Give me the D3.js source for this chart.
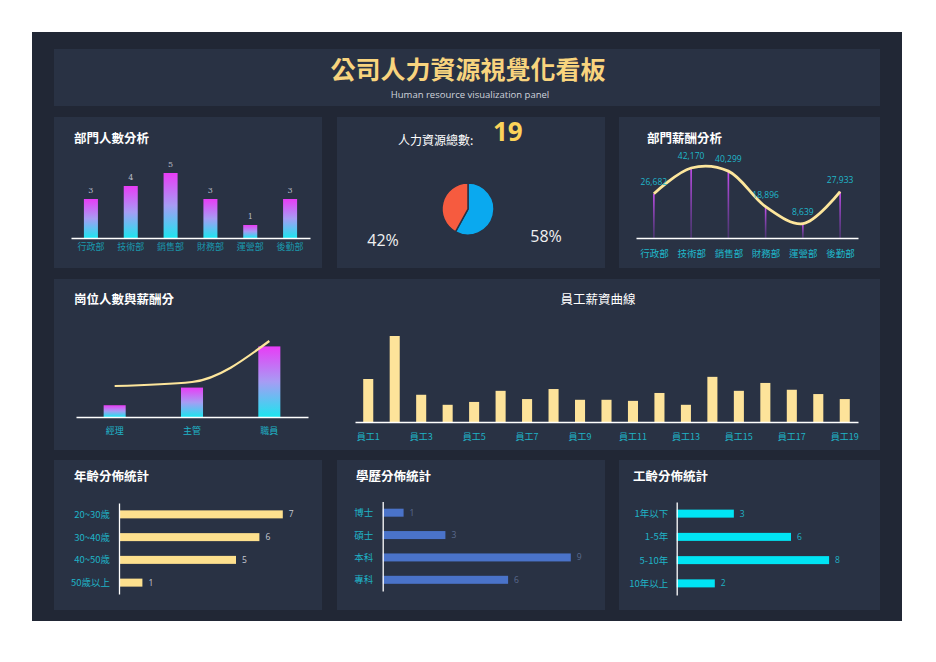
<!DOCTYPE html>
<html><head><meta charset="utf-8">
<script src="https://cdn.jsdelivr.net/npm/d3@7/dist/d3.min.js"></script>
<style>body{margin:0;background:#fff}svg{display:block}</style>
</head><body><svg id="c" width="936" height="662"></svg>
<script>
// ---------- DATA ----------
const deptNames = ['行政部','技術部','銷售部','財務部','運營部','後勤部'];
const deptCounts = [3,4,5,3,1,3];
const deptSalary = [26682,42170,40299,18896,8639,27933];
const totalStaff = 19;
const pieShares = [58,42];
const pieLabels = ['58%','42%'];
const posNames = ['經理','主管','職員'];
const posCounts = [2,5,12];
const posSalary = [31000,35000,76000];
const staffNames = ['員工1','員工2','員工3','員工4','員工5','員工6','員工7','員工8','員工9','員工10','員工11','員工12','員工13','員工14','員工15','員工16','員工17','員工18','員工19'];
const staffTicks = ['員工1','員工3','員工5','員工7','員工9','員工11','員工13','員工15','員工17','員工19'];
const staffSalary = [12000,24000,7600,4800,5600,8700,6400,9200,6200,6200,5900,8100,4800,12600,8700,10900,9000,7800,6400];
const ageCats = ['20~30歲','30~40歲','40~50歲','50歲以上'];
const ageVals = [7,6,5,1];
const eduCats = ['博士','碩士','本科','專科'];
const eduVals = [1,3,9,6];
const workCats = ['1年以下','1-5年','5-10年','10年以上'];
const workVals = [3,6,8,2];

// ---------- SETUP ----------
const FONT = '"Noto Sans CJK TC","Noto Sans",sans-serif';
const NUMFONT = '"Open Sans","Noto Sans",sans-serif';
const TEAL = '#1fb3c6';
const svg = d3.select('#c');
const defs = svg.append('defs');
const gb = defs.append('linearGradient').attr('id','gBar').attr('x1',0).attr('y1',0).attr('x2',0).attr('y2',1);
gb.append('stop').attr('offset','0%').attr('stop-color','#e83cf6');
gb.append('stop').attr('offset','50%').attr('stop-color','#a79cf4');
gb.append('stop').attr('offset','100%').attr('stop-color','#1de5ef');
const gd = defs.append('linearGradient').attr('id','gDrop').attr('x1',0).attr('y1',0).attr('x2',0).attr('y2',1);
gd.append('stop').attr('offset','0%').attr('stop-color','#c94ff2').attr('stop-opacity',1);
gd.append('stop').attr('offset','100%').attr('stop-color','#8a3ec0').attr('stop-opacity',0.35);

svg.append('rect').attr('x',32).attr('y',32).attr('width',870).attr('height',589).attr('fill','#212735');
const panels = [[54,49,826,57],[54,117,268,151],[337,117,268,151],[619,117,261,151],[54,279,826,171],[54,460,268,150],[337,460,268,150],[619,460,261,150]];
svg.selectAll('rect.panel').data(panels).join('rect').attr('class','panel')
  .attr('x',d=>d[0]).attr('y',d=>d[1]).attr('width',d=>d[2]).attr('height',d=>d[3]).attr('fill','#293244');

function txt(x,y,s,o={}){
  return svg.append('text').attr('x',x).attr('y',y).text(s)
    .attr('font-family',o.font||FONT).attr('font-size',o.size||12.5)
    .attr('font-weight',o.weight||'normal').attr('fill',o.fill||'#fff')
    .attr('text-anchor',o.anchor||'start');
}
function styleAxis(g,color,size){
  g.select('.domain').attr('stroke','#fff').attr('stroke-width',1.3);
  g.selectAll('.tick line').remove();
  g.selectAll('text').attr('fill',color).attr('font-size',size).attr('font-family',FONT);
}

// ---------- TITLE ----------
txt(468,79,'公司人力資源視覺化看板',{size:25,weight:'bold',fill:'#f8d47e',anchor:'middle'});
txt(470,97.5,'Human resource visualization panel',{size:9.5,fill:'#d0d4dc',anchor:'middle',font:NUMFONT});

// ---------- PANEL 1: 部門人數分析 ----------
txt(74,143,'部門人數分析',{weight:'bold'});
{
  const x = d3.scaleBand().domain(deptNames).range([71,310]).paddingInner(0.648).paddingOuter(0.324);
  const y = d3.scaleLinear().domain([0,6]).range([238,160]);
  svg.append('g').selectAll('rect').data(deptCounts).join('rect')
    .attr('x',(d,i)=>x(deptNames[i])).attr('width',x.bandwidth())
    .attr('y',d=>y(d)).attr('height',d=>y(0)-y(d)).attr('fill','url(#gBar)');
  svg.append('g').selectAll('text').data(deptCounts).join('text')
    .attr('x',(d,i)=>x(deptNames[i])+x.bandwidth()/2).attr('y',d=>y(d)-6)
    .attr('text-anchor','middle').attr('font-family','"DejaVu Serif","Liberation Serif",serif')
    .attr('font-size',8).attr('fill','#b8bcc6').text(d=>d);
  const ax = svg.append('g').attr('transform','translate(0,238)')
    .call(d3.axisBottom(x).tickSize(0).tickSizeOuter(0).tickPadding(6));
  styleAxis(ax,'#1a98ad',9);
}

// ---------- PANEL 2: 人力資源總數 ----------
txt(398,145,'人力資源總數:',{size:12});
txt(493,141,totalStaff,{size:26,weight:'bold',fill:'#fbd35a',font:NUMFONT});
{
  const pie = d3.pie().sort(null).value(d=>d)(pieShares);
  const arc = d3.arc().innerRadius(0).outerRadius(26);
  const colors = ['#0aa9ef','#f65b3f'];
  svg.append('g').attr('transform','translate(468,209)').selectAll('path').data(pie).join('path')
    .attr('d',arc).attr('fill',(d,i)=>colors[i]).attr('stroke','#293244').attr('stroke-width',1.5);
  txt(546,242,pieLabels[0],{size:16,fill:'#f0f0f0',anchor:'middle',font:NUMFONT});
  txt(383,245.5,pieLabels[1],{size:16,fill:'#f0f0f0',anchor:'middle',font:NUMFONT});
}

// ---------- PANEL 3: 部門薪酬分析 ----------
txt(647,143,'部門薪酬分析',{weight:'bold'});
{
  const x = d3.scalePoint().domain(deptNames).range([636,858]).padding(0.48);
  const y = d3.scaleLinear().domain([0,50000]).range([238,155]);
  svg.append('g').selectAll('rect').data(deptSalary).join('rect')
    .attr('x',(d,i)=>x(deptNames[i])-0.8).attr('width',1.6)
    .attr('y',d=>y(d)).attr('height',d=>y(0)-y(d)).attr('fill','url(#gDrop)');
  const line = d3.line().x((d,i)=>x(deptNames[i])).y(d=>y(d)).curve(d3.curveCatmullRom);
  svg.append('path').attr('d',line(deptSalary)).attr('fill','none')
    .attr('stroke','#fde69c').attr('stroke-width',2.8);
  svg.append('g').selectAll('text').data(deptSalary).join('text')
    .attr('x',(d,i)=>x(deptNames[i])).attr('y',d=>y(d)-9)
    .attr('text-anchor','middle').attr('font-family',NUMFONT).attr('font-size',8.5)
    .attr('fill','#1fb8cb').text(d=>d3.format(',')(d));
  const ax = svg.append('g').attr('transform','translate(0,238)')
    .call(d3.axisBottom(x).tickSize(0).tickSizeOuter(0).tickPadding(12));
  styleAxis(ax,'#1fb8cb',9.5);
}

// ---------- PANEL 4: 崗位人數與薪酬分 ----------
txt(74,304,'崗位人數與薪酬分',{weight:'bold'});
{
  const x = d3.scaleBand().domain(posNames).range([76,308]).paddingInner(0.715).paddingOuter(0.3575);
  const y = d3.scaleLinear().domain([0,17]).range([417,317]);
  const y2 = d3.scaleLinear().domain([0,100000]).range([417,317]);
  svg.append('g').selectAll('rect').data(posCounts).join('rect')
    .attr('x',(d,i)=>x(posNames[i])).attr('width',x.bandwidth())
    .attr('y',d=>y(d)).attr('height',d=>y(0)-y(d)).attr('fill','url(#gBar)');
  const line = d3.line().x((d,i)=>x(posNames[i])+x.bandwidth()/2).y(d=>y2(d)).curve(d3.curveMonotoneX);
  svg.append('path').attr('d',line(posSalary)).attr('fill','none')
    .attr('stroke','#fde69c').attr('stroke-width',2.2);
  const ax = svg.append('g').attr('transform','translate(0,417)')
    .call(d3.axisBottom(x).tickSize(0).tickSizeOuter(0).tickPadding(11));
  styleAxis(ax,'#1fb3c6',9);
}

// ---------- PANEL 5: 員工薪資曲線 ----------
txt(598,304,'員工薪資曲線',{anchor:'middle'});
{
  const x = d3.scaleBand().domain(staffNames).range([355,858]).paddingInner(0.62).paddingOuter(0.31);
  const y = d3.scaleLinear().domain([0,30000]).range([422,314.5]);
  svg.append('g').selectAll('rect').data(staffSalary).join('rect')
    .attr('x',(d,i)=>x(staffNames[i])).attr('width',x.bandwidth())
    .attr('y',d=>y(d)).attr('height',d=>y(0)-y(d)).attr('fill','#fde39a');
  const ax = svg.append('g').attr('transform','translate(0,422)')
    .call(d3.axisBottom(x).tickValues(staffTicks).tickSize(0).tickSizeOuter(0).tickPadding(11.5));
  styleAxis(ax,'#1fb3c6',9);
}

// ---------- BOTTOM: horizontal bars ----------
function hbar(title,tx,cats,vals,axX,unit,yr,color,valColor,labColor,pad){
  txt(tx,481,title,{weight:'bold'});
  const x = d3.scaleLinear().domain([0,10]).range([axX,axX+unit*10]);
  const y = d3.scalePoint().domain(cats).range(yr).padding(0.5);
  svg.append('g').selectAll('rect').data(vals).join('rect')
    .attr('x',x(0)).attr('y',(d,i)=>y(cats[i])-4).attr('height',8)
    .attr('width',d=>x(d)-x(0)).attr('fill',color);
  svg.append('g').selectAll('text').data(vals).join('text')
    .attr('x',d=>x(d)+6).attr('y',(d,i)=>y(cats[i])+3)
    .attr('font-family',NUMFONT).attr('font-size',8.5).attr('fill',valColor).text(d=>d);
  const ax = svg.append('g').attr('transform',`translate(${axX},0)`)
    .call(d3.axisLeft(y).tickSize(0).tickSizeOuter(0).tickPadding(pad));
  ax.select('.domain').attr('stroke','#fff').attr('stroke-width',1.3);
  ax.selectAll('text').attr('fill',labColor).attr('font-size',9.5).attr('font-family',FONT);
}
hbar('年齡分佈統計',74,ageCats,ageVals,119,23.4,[503,594],'#fde08e','#c8ccd4','#1fb3c6',9);
hbar('學歷分佈統計',356,eduCats,eduVals,382.7,20.9,[501.5,591],'#4a73c9','#5b6b8e','#1fb3c6',9.5);
hbar('工齡分佈統計',633,workCats,workVals,676.7,19.05,[502,595],'#00e4f4','#1fb3c6','#1fb3c6',8.5);
</script></body></html>
